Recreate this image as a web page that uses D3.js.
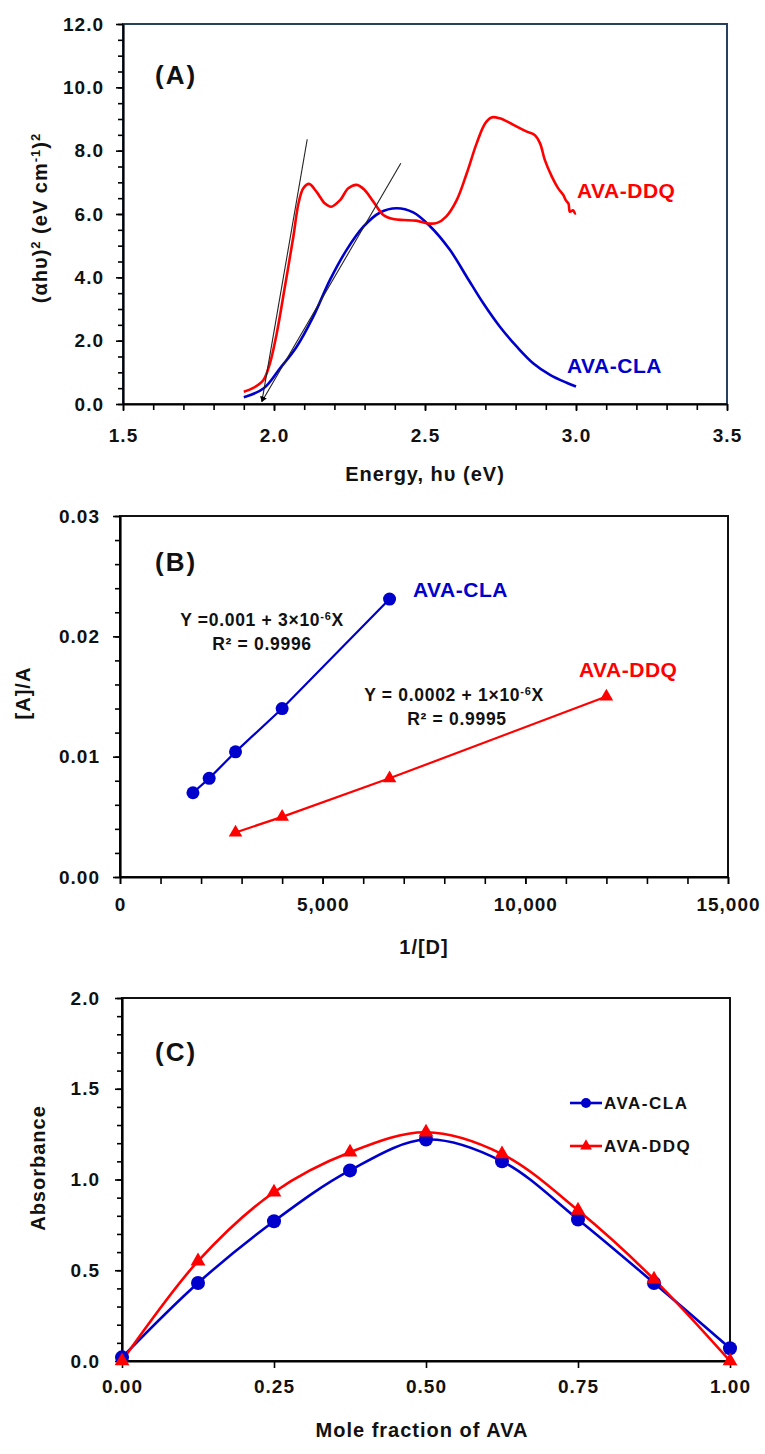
<!DOCTYPE html>
<html>
<head>
<meta charset="utf-8">
<script src="https://cdn.jsdelivr.net/npm/d3@7/dist/d3.min.js"></script>
<style>
    body { margin: 0; background: #ffffff; }
    svg text { font-family: "Liberation Sans", Arial, sans-serif; font-weight: bold; }
</style>
</head>
<body>
<script>
// ---------- (A) Tauc plot ----------
const energyCLA = [1.90, 1.965, 2.02, 2.075, 2.13, 2.185, 2.24, 2.296, 2.35, 2.406, 2.461, 2.516, 2.583, 2.638, 2.693, 2.748, 2.804, 2.859, 2.914, 2.969, 3.00];
const tCLA = [0.21, 0.49, 1.13, 1.81, 2.76, 3.91, 4.86, 5.60, 6.04, 6.18, 6.05, 5.62, 4.86, 4.02, 3.18, 2.44, 1.81, 1.28, 0.92, 0.67, 0.55];
const energyDDQ = [1.90, 1.93, 1.965, 1.987, 2.009, 2.036, 2.064, 2.081, 2.097, 2.116, 2.141, 2.169, 2.19, 2.219, 2.246, 2.274, 2.30, 2.329, 2.362, 2.395, 2.43, 2.47, 2.51, 2.54, 2.57, 2.605, 2.638, 2.671, 2.699, 2.72, 2.748, 2.776, 2.804, 2.837, 2.864, 2.881, 2.897, 2.92, 2.941, 2.958, 2.966, 2.975, 2.98, 2.99, 2.997, 3.0];
const tDDQ = [0.39, 0.50, 0.76, 1.30, 2.23, 3.70, 5.28, 6.33, 6.81, 6.95, 6.70, 6.33, 6.23, 6.44, 6.81, 6.92, 6.76, 6.39, 5.97, 5.84, 5.81, 5.79, 5.70, 5.72, 5.92, 6.44, 7.28, 8.23, 8.86, 9.05, 9.02, 8.90, 8.76, 8.60, 8.49, 8.23, 7.70, 7.18, 6.81, 6.60, 6.44, 6.33, 6.07, 6.12, 6.02, 6.02];
// tangent lines: [x1, y1, x2, y2]
const tangents = [[2.11, 8.36, 1.96, 0.08], [2.42, 7.60, 1.96, 0.08]];
const ticksAx = [1.5, 2.0, 2.5, 3.0, 3.5];
const ticksAy = [0, 2, 4, 6, 8, 10, 12];

// ---------- (B) Benesi-Hildebrand ----------
const invD_CLA = [1800, 2200, 2850, 4000, 6650];
const ratioCLA = [0.0070, 0.0082, 0.0104, 0.0140, 0.0231];
const invD_DDQ = [2850, 4000, 6650, 12000];
const ratioDDQ = [0.0037, 0.0050, 0.0082, 0.0150];
const ticksBx = [0, 5000, 10000, 15000];
const ticksBy = [0, 0.01, 0.02, 0.03];

// ---------- (C) Job's plot ----------
const moleFraction = [0, 0.125, 0.25, 0.375, 0.5, 0.625, 0.75, 0.875, 1.0];
const absCLA = [0.02, 0.43, 0.77, 1.05, 1.22, 1.10, 0.78, 0.43, 0.07];
const absDDQ = [0.00, 0.55, 0.93, 1.15, 1.26, 1.14, 0.83, 0.45, 0.00];
const ticksCx = [0, 0.25, 0.5, 0.75, 1.0];
const ticksCy = [0, 0.5, 1.0, 1.5, 2.0];

const BLUE = '#0000cc', RED = '#ff0000';

let svg = d3.select('body').append('svg')
    .attr('width', 765)
    .attr('height', 1454);

svg.append('defs').append('marker')
    .attr('id', 'arrow')
    .attr('viewBox', '0 0 10 10')
    .attr('refX', 9).attr('refY', 5)
    .attr('markerWidth', 5).attr('markerHeight', 5)
    .attr('orient', 'auto')
    .append('path').attr('d', 'M0,0 L10,5 L0,10 Z').attr('fill', '#000');

/**
 * frame + axes of one panel
 */
const drawFrame = (g, x, y, o) => {
    let [x0, x1] = x.range(), [y0, y1] = y.range();
    g.append('rect')
        .attr('x', x0).attr('y', y1)
        .attr('width', x1 - x0).attr('height', y0 - y1)
        .attr('fill', 'none')
        .attr('stroke', o.frameColor)
        .attr('stroke-width', 2);

    let style = (a) => {
        a.attr('font-family', null).attr('font-size', 19);
        a.select('.domain').attr('stroke', '#000').attr('stroke-width', 2.2);
        a.selectAll('.tick line').attr('stroke', '#000').attr('stroke-width', 1.6);
        a.selectAll('.tick text').attr('fill', '#111').style('letter-spacing', '1px');
    };

    // minor ticks
    g.append('g').attr('transform', `translate(0,${y0})`)
        .call(d3.axisBottom(x).tickValues(o.xMinor).tickSize(o.xMinorSize).tickFormat(''))
        .call(a => { a.select('.domain').remove(); a.selectAll('line').attr('stroke', '#000').attr('stroke-width', 1.6); });
    g.append('g').attr('transform', `translate(${x0},0)`)
        .call(d3.axisLeft(y).tickValues(o.yMinor).tickSize(5).tickFormat(''))
        .call(a => { a.select('.domain').remove(); a.selectAll('line').attr('stroke', '#000').attr('stroke-width', 1.6); });

    // major ticks + labels
    g.append('g').attr('transform', `translate(0,${y0})`)
        .call(d3.axisBottom(x).tickValues(o.xTicks).tickSize(7).tickSizeOuter(0)
            .tickPadding(o.xPad).tickFormat(o.xFormat))
        .call(style);
    g.append('g').attr('transform', `translate(${x0},0)`)
        .call(d3.axisLeft(y).tickValues(o.yTicks).tickSize(7).tickSizeOuter(0)
            .tickPadding(o.yPad).tickFormat(o.yFormat))
        .call(style);
};

const addText = (g, txt, x, y, size, color, anchor, rotate) => {
    let t = g.append('text')
        .attr('x', x).attr('y', y)
        .attr('font-size', size)
        .attr('fill', color || '#111')
        .attr('text-anchor', anchor || 'start')
        .style('letter-spacing', '1px');
    if (rotate) t.attr('transform', `rotate(-90,${x},${y})`);
    t.text(txt);
    return t;
};

// ================= (A) =================
let xA = d3.scaleLinear().domain([1.5, 3.5]).range([123, 727]);
let yA = d3.scaleLinear().domain([0, 12]).range([404, 24]);
let gA = svg.append('g');
drawFrame(gA, xA, yA, {
    frameColor: '#27405f',
    xTicks: ticksAx, yTicks: ticksAy,
    xMinor: d3.range(15, 36).map(d => d / 10), xMinorSize: 6,
    yMinor: d3.range(0, 25).map(d => d / 2),
    xPad: 18, yPad: 12,
    xFormat: d3.format('.1f'), yFormat: d3.format('.1f')
});

let lineA = d3.line().curve(d3.curveCatmullRom.alpha(0.5))
    .x(d => xA(d[0])).y(d => yA(d[1]));
gA.append('path')
    .attr('d', lineA(d3.zip(energyCLA, tCLA)))
    .attr('fill', 'none').attr('stroke', BLUE).attr('stroke-width', 2.6);
gA.append('path')
    .attr('d', lineA(d3.zip(energyDDQ, tDDQ)))
    .attr('fill', 'none').attr('stroke', RED).attr('stroke-width', 2.6);
gA.selectAll('.tangent')
    .data(tangents)
    .enter()
    .append('line')
    .attr('class', 'tangent')
    .attr('x1', d => xA(d[0])).attr('y1', d => yA(d[1]))
    .attr('x2', d => xA(d[2])).attr('y2', d => yA(d[3]))
    .attr('stroke', '#222').attr('stroke-width', 1.1)
    .attr('marker-end', 'url(#arrow)');

addText(gA, '(A)', 155, 84, 26).style('letter-spacing', '2px');
addText(gA, 'AVA-DDQ', 577, 198, 21, RED).style('letter-spacing', '0.5px');
addText(gA, 'AVA-CLA', 567, 373, 21, BLUE).style('letter-spacing', '0.5px');
addText(gA, 'Energy, hυ (eV)', 425, 481, 20, '#111', 'middle');
let yTitleA = addText(gA, '', 47, 218, 20, '#111', 'middle', true);
yTitleA.append('tspan').text('(αhυ)');
yTitleA.append('tspan').attr('font-size', 13).attr('dy', -7).text('2');
yTitleA.append('tspan').attr('dy', 7).text(' (eV cm');
yTitleA.append('tspan').attr('font-size', 13).attr('dy', -7).text('-1');
yTitleA.append('tspan').attr('dy', 7).text(')');
yTitleA.append('tspan').attr('font-size', 13).attr('dy', -7).text('2');

// ================= (B) =================
let xB = d3.scaleLinear().domain([0, 15000]).range([120, 728]);
let yB = d3.scaleLinear().domain([0, 0.03]).range([877, 516]);
let gB = svg.append('g');
drawFrame(gB, xB, yB, {
    frameColor: '#111',
    xTicks: ticksBx, yTicks: ticksBy,
    xMinor: d3.range(0, 16).map(d => d * 1000), xMinorSize: 7,
    yMinor: d3.range(0, 16).map(d => d * 0.002),
    xPad: 14, yPad: 13,
    xFormat: d3.format(','), yFormat: d3.format('.2f')
});

let lineB = d3.line().x(d => xB(d[0])).y(d => yB(d[1]));
gB.append('path')
    .attr('d', lineB(d3.zip(invD_CLA, ratioCLA)))
    .attr('fill', 'none').attr('stroke', BLUE).attr('stroke-width', 2.2);
gB.append('path')
    .attr('d', lineB(d3.zip(invD_DDQ, ratioDDQ)))
    .attr('fill', 'none').attr('stroke', RED).attr('stroke-width', 2.2);
gB.selectAll('.ptCLA')
    .data(d3.zip(invD_CLA, ratioCLA))
    .enter()
    .append('circle')
    .attr('cx', d => xB(d[0])).attr('cy', d => yB(d[1]))
    .attr('r', 6.5).attr('fill', BLUE);
gB.selectAll('.ptDDQ')
    .data(d3.zip(invD_DDQ, ratioDDQ))
    .enter()
    .append('path')
    .attr('d', d3.symbol(d3.symbolTriangle).size(80))
    .attr('transform', d => `translate(${xB(d[0])},${yB(d[1])})`)
    .attr('fill', RED);

addText(gB, '(B)', 155, 571, 26).style('letter-spacing', '2px');
addText(gB, 'AVA-CLA', 413, 597, 21, BLUE).style('letter-spacing', '0.5px');
addText(gB, 'AVA-DDQ', 579, 677, 21, RED).style('letter-spacing', '0.5px');
let eq1 = addText(gB, '', 262, 626, 17.5, '#111', 'middle').style('letter-spacing', '0.7px');
eq1.append('tspan').text('Y =0.001 + 3×10');
eq1.append('tspan').attr('font-size', 11).attr('dy', -6).text('-6');
eq1.append('tspan').attr('dy', 6).text('X');
addText(gB, 'R² = 0.9996', 262, 650, 17.5, '#111', 'middle').style('letter-spacing', '0.7px');
let eq2 = addText(gB, '', 454, 701, 17.5, '#111', 'middle').style('letter-spacing', '0.7px');
eq2.append('tspan').text('Y = 0.0002 + 1×10');
eq2.append('tspan').attr('font-size', 11).attr('dy', -6).text('-6');
eq2.append('tspan').attr('dy', 6).text('X');
addText(gB, 'R² = 0.9995', 457, 725, 17.5, '#111', 'middle').style('letter-spacing', '0.7px');
addText(gB, '1/[D]', 424, 954, 20, '#111', 'middle');
addText(gB, '[A]/A', 30, 693, 20, '#111', 'middle', true);

// ================= (C) =================
let xC = d3.scaleLinear().domain([0, 1]).range([122, 730]);
let yC = d3.scaleLinear().domain([0, 2]).range([1361, 998]);
let gC = svg.append('g');
drawFrame(gC, xC, yC, {
    frameColor: '#111',
    xTicks: ticksCx, yTicks: ticksCy,
    xMinor: [], xMinorSize: 0,
    yMinor: d3.range(0, 21).map(d => d / 10),
    xPad: 12, yPad: 15,
    xFormat: d3.format('.2f'), yFormat: d3.format('.1f')
});

let lineC = d3.line().curve(d3.curveCatmullRom.alpha(0.5))
    .x(d => xC(d[0])).y(d => yC(d[1]));
gC.append('path')
    .attr('d', lineC(d3.zip(moleFraction, absCLA)))
    .attr('fill', 'none').attr('stroke', BLUE).attr('stroke-width', 2.6);
gC.append('path')
    .attr('d', lineC(d3.zip(moleFraction, absDDQ)))
    .attr('fill', 'none').attr('stroke', RED).attr('stroke-width', 2.6);
gC.selectAll('.ptCLA')
    .data(d3.zip(moleFraction, absCLA))
    .enter()
    .append('circle')
    .attr('cx', d => xC(d[0])).attr('cy', d => yC(d[1]))
    .attr('r', 7).attr('fill', BLUE);
gC.selectAll('.ptDDQ')
    .data(d3.zip(moleFraction, absDDQ))
    .enter()
    .append('path')
    .attr('d', d3.symbol(d3.symbolTriangle).size(95))
    .attr('transform', d => `translate(${xC(d[0])},${yC(d[1])})`)
    .attr('fill', RED);

// legend
let legend = gC.append('g');
[[BLUE, 'AVA-CLA', 1103, 'circle'], [RED, 'AVA-DDQ', 1146, 'tri']].forEach(d => {
    legend.append('line')
        .attr('x1', 570).attr('x2', 602).attr('y1', d[2]).attr('y2', d[2])
        .attr('stroke', d[0]).attr('stroke-width', 2.6);
    if (d[3] === 'circle') {
        legend.append('circle').attr('cx', 586).attr('cy', d[2]).attr('r', 5).attr('fill', d[0]);
    } else {
        legend.append('path').attr('d', d3.symbol(d3.symbolTriangle).size(60))
            .attr('transform', `translate(586,${d[2]})`).attr('fill', d[0]);
    }
    addText(legend, d[1], 604, d[2] + 6, 17).style('letter-spacing', '1.5px');
});

addText(gC, '(C)', 155, 1061, 26).style('letter-spacing', '2px');
addText(gC, 'Mole fraction of AVA', 422, 1437, 20, '#111', 'middle');
addText(gC, 'Absorbance', 45, 1168, 20, '#111', 'middle', true);
</script>
</body>
</html>
